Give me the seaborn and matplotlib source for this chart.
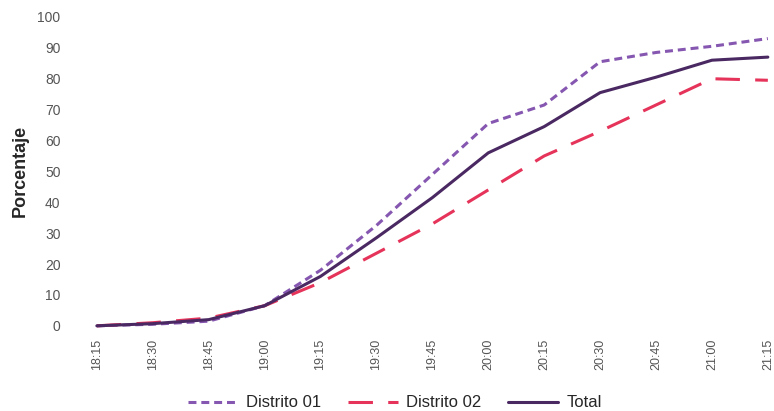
import matplotlib
matplotlib.use("Agg")
from matplotlib import pyplot as plt
import pandas as pd
import seaborn as sns

horas = ["18:15", "18:30", "18:45", "19:00", "19:15", "19:30", "19:45",
         "20:00", "20:15", "20:30", "20:45", "21:00", "21:15"]
distrito_01 = [0, 0.5, 1.5, 6.5, 18, 32.5, 49, 65.5, 71.5, 85.5, 88.5, 90.5, 93]
distrito_02 = [0, 1, 2.5, 6.5, 14, 23.5, 33, 44, 55, 63, 71.5, 80, 79.5]
total = [0, 0.7, 2, 6.5, 16, 28.5, 41.5, 56, 64.5, 75.5, 80.5, 86, 87]

series = ["Distrito 01", "Distrito 02", "Total"]
colores = {"Distrito 01": "#8657b0", "Distrito 02": "#e5335a", "Total": "#4a2862"}
guiones = {"Distrito 01": (2.6, 1.6), "Distrito 02": (8, 5), "Total": ""}

df = pd.DataFrame({
    "hora": list(range(len(horas))) * 3,
    "valor": distrito_01 + distrito_02 + total,
    "serie": [s for s in series for _ in horas],
})

sns.set_style("white")
plt.rcParams["font.family"] = ["Liberation Sans", "DejaVu Sans"]

fig = plt.figure(figsize=(7.74, 4.11), dpi=100)
ax = fig.add_axes([0.089, 0.196, 0.911, 0.774])

sns.lineplot(data=df, x="hora", y="valor", hue="serie", style="serie",
             palette=colores, dashes=guiones, linewidth=2.2, ax=ax)

ax.set_xlim(-0.5, 12.11)
ax.set_ylim(-1.5, 101.5)
ax.set_xticks(range(len(horas)))
ax.set_xticklabels(horas, rotation=90, fontsize=9, color="#555555")
ax.set_yticks(range(0, 101, 10))
ax.tick_params(axis="y", labelsize=10, labelcolor="#555555", length=0, pad=6)
ax.tick_params(axis="x", length=0, pad=6)
ax.set_xlabel("")
ax.set_ylabel("Porcentaje", fontsize=13, fontweight="bold", labelpad=6)
for s in ax.spines.values():
    s.set_visible(False)

ax.legend_.remove()
handles, labels = ax.get_legend_handles_labels()
fig.legend(handles, labels, loc="lower center", bbox_to_anchor=(0.51, -0.035),
           ncol=3, frameon=False, fontsize=12, handlelength=3.0,
           columnspacing=1.6, handletextpad=0.5)

fig.savefig("out.png", dpi=100)
